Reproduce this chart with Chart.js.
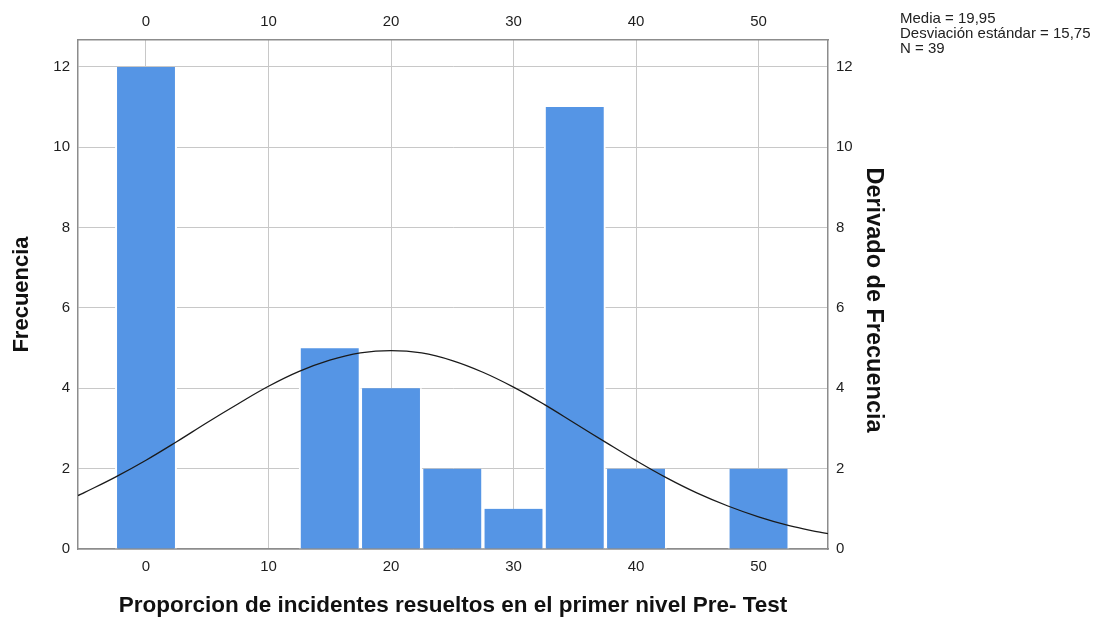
<!DOCTYPE html>
<html>
<head>
<meta charset="utf-8">
<script src="https://cdn.jsdelivr.net/npm/chart.js@4"></script>
<style>
    body { margin: 0; background: #fff; }
    #wrap { width: 1102px; height: 621px; }
</style>
</head>
<body>
<div id="wrap"><canvas id="histChart" width="1102" height="621"></canvas></div>
<script>
// histogram bins (midpoints) and frequencies
const binMids = [0, 5, 10, 15, 20, 25, 30, 35, 40, 45, 50];
const binCounts = [12, 0, 0, 5, 4, 2, 1, 11, 2, 0, 2];

// normal curve
const curveX = [-5.55, -5, -2.5, 0, 2.5, 5, 7.5, 10, 12.5, 15, 17.5, 20, 22.5, 25, 27.5, 30, 32.5, 35, 37.5, 40, 42.5, 45, 47.5, 50, 52.5, 55, 55.67];
const curveY = [1.33, 1.41, 1.79, 2.21, 2.67, 3.15, 3.61, 4.05, 4.42, 4.70, 4.88, 4.94, 4.88, 4.69, 4.40, 4.03, 3.60, 3.13, 2.66, 2.20, 1.77, 1.39, 1.07, 0.80, 0.58, 0.42, 0.38];

const xTicks = [0, 10, 20, 30, 40, 50];
const yTicks = [0, 2, 4, 6, 8, 10, 12];

const statsLines = ['Media = 19,95', 'Desviación estándar = 15,75', 'N = 39'];
const rightTitle = 'Derivado de Frecuencia';

const FONT = '"Liberation Sans", Arial, sans-serif';
const tickFont = { family: FONT, size: 15 };
const gridColor = '#c8c8c8';
const borderColor = '#8c8c8c';

// stats box and the right-hand axis title
const extrasPlugin = {
    id: 'extras',
    afterDraw(chart) {
        const ctx = chart.ctx;
        ctx.save();
        ctx.fillStyle = '#222';
        ctx.font = '15px ' + FONT;
        ctx.textBaseline = 'alphabetic';
        statsLines.forEach((line, i) => ctx.fillText(line, 900, 23 + i * 15));

        ctx.fillStyle = '#111';
        ctx.font = 'bold 23.5px ' + FONT;
        ctx.textAlign = 'center';
        ctx.textBaseline = 'middle';
        ctx.translate(873, 300);
        ctx.rotate(Math.PI / 2);
        ctx.fillText(rightTitle, 0, 0);
        ctx.restore();
    }
};

function xAxis(position, showGrid, height) {
    return {
        type: 'linear',
        position: position,
        offset: false,
        min: -5.55,
        max: 55.67,
        afterBuildTicks: scale => { scale.ticks = xTicks.map(v => ({ value: v })); },
        afterFit: scale => { scale.height = height; },
        ticks: { font: tickFont, color: '#1e1e1e', padding: 9, maxRotation: 0 },
        grid: { display: showGrid, color: gridColor, drawTicks: false, offset: false },
        border: { display: true, color: borderColor, width: 1.5 }
    };
}

function yAxis(position, showGrid, width) {
    return {
        type: 'linear',
        position: position,
        min: 0,
        max: 12.67,
        afterBuildTicks: scale => { scale.ticks = yTicks.map(v => ({ value: v })); },
        afterFit: scale => { scale.width = width; },
        ticks: { font: tickFont, color: '#1e1e1e', padding: 8 },
        grid: { display: showGrid, color: gridColor, drawTicks: false },
        border: { display: true, color: borderColor, width: 1.5 }
    };
}

const bottomAxis = xAxis('bottom', true, 72);
bottomAxis.title = {
    display: true,
    text: 'Proporcion de incidentes resueltos en el primer nivel Pre- Test',
    font: { family: FONT, size: 22.5, weight: 'bold' },
    color: '#111',
    padding: { top: 0, bottom: 2 }
};

const leftAxis = yAxis('left', true, 78);
leftAxis.title = {
    display: true,
    text: 'Frecuencia',
    font: { family: FONT, size: 22, weight: 'bold' },
    color: '#111',
    padding: { top: 9, bottom: 0 }
};

new Chart(document.getElementById('histChart'), {
    type: 'bar',
    data: {
        datasets: [{
            type: 'line',
            data: curveX.map((x, i) => ({ x: x, y: curveY[i] })),
            borderColor: '#1a1a1a',
            borderWidth: 1.3,
            pointRadius: 0,
            tension: 0.4,
            fill: false,
            order: 0,
            xAxisID: 'x',
            yAxisID: 'y'
        }, {
            type: 'bar',
            data: binMids.map((x, i) => ({ x: x, y: binCounts[i] })),
            backgroundColor: '#5595e5',
            borderColor: '#ffffff',
            borderWidth: { left: 2, right: 2, top: 0, bottom: 0 },
            borderSkipped: false,
            barPercentage: 1,
            categoryPercentage: 1,
            order: 1,
            xAxisID: 'x',
            yAxisID: 'y'
        }]
    },
    options: {
        responsive: false,
        animation: false,
        layout: { padding: { left: 0, right: 204, top: 0, bottom: 0 } },
        plugins: { legend: { display: false }, tooltip: { enabled: false } },
        scales: {
            x: bottomAxis,
            x2: xAxis('top', false, 40),
            y: leftAxis,
            y2: yAxis('right', false, 70)
        }
    },
    plugins: [extrasPlugin]
});
</script>
</body>
</html>
